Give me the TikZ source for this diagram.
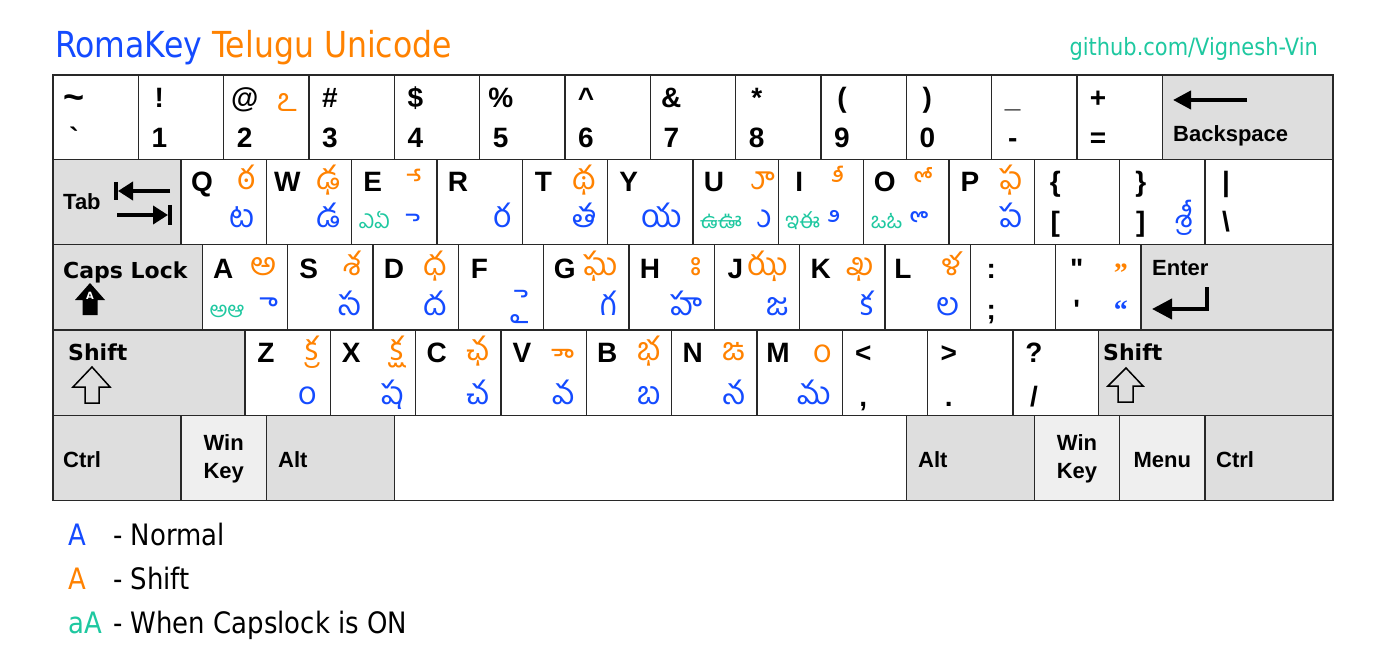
\documentclass[tikz,border=0pt]{standalone}
\usepackage{fontspec}
\usetikzlibrary{arrows.meta}
\setmainfont{Liberation Sans}
\newfontfamily\kf{Liberation Sans}
\newfontfamily\dv{DejaVu Sans}
\newfontfamily\lser{Liberation Serif}
\newfontfamily\tah{DejaVu Sans}[FakeStretch=0.88]
\newfontfamily\tel{Hind Guntur}[Script=Telugu]
\definecolor{kline}{RGB}{40,40,40}
\definecolor{kgray}{RGB}{222,222,222}
\definecolor{klight}{RGB}{239,239,239}
\definecolor{tblue}{RGB}{20,75,255}
\definecolor{torange}{RGB}{255,130,0}
\definecolor{tteal}{RGB}{30,200,160}
\newcommand\mk[1]{\XeTeXglyph\XeTeXcharglyph"#1\relax}
\newcommand\gq[1]{\XeTeXglyph\XeTeXcharglyph"#1\relax}
\tikzset{
 keyst/.style={draw=kline,line width=1.3pt,inner sep=0pt,outer sep=0pt,anchor=north west},
 lab/.style={inner sep=0pt,anchor=base,font=\kf\bfseries\fontsize{28}{30}\selectfont},
 mod/.style={inner sep=0pt,anchor=base west,font=\kf\bfseries\fontsize{22}{24}\selectfont},
 modc/.style={mod,anchor=base},
 vmod/.style={inner sep=0pt,anchor=base west,font=\dv\bfseries\fontsize{22}{24}\selectfont},
 sh/.style={inner sep=0pt,anchor=base east,text=torange,font=\tel\fontsize{32}{34}\selectfont},
 nm/.style={sh,text=tblue},
 qt/.style={inner sep=0pt,anchor=base east,font=\lser\bfseries\fontsize{28}{30}\selectfont},
 cp/.style={inner sep=0pt,anchor=base west,text=tteal,font=\tel\fontsize{22}{24}\selectfont},
 thick arrow/.style={line width=4pt,-{Triangle[length=18pt,width=18pt]}},
 icon/.style={line width=1.5pt,draw=black,line join=miter},
 leg/.style={inner sep=0pt,anchor=base west,font=\tah\fontsize{29.5}{31}\selectfont},
}
\newcommand\kbox[6][white]{\node[keyst,fill=#1,minimum width={(#5)-(#3)},minimum height={(#6)-(#4)}] (#2) at (#3,#4) {};}
\newcommand\nkey[5]{\kbox{#1}{#2}{75}{#3}{159.3}
 \node[lab] (#1-u) at (#2+21,108) {#4};
 \node[lab] (#1-d) at (#2+21,148) {#5};}
\newcommand\lkey[7]{\kbox{#1}{#2}{\rt}{#3}{\rb}
 \node[lab] (#1-l) at (#2+21,\ba) {#4};
 \ifx\relax#5\relax\else\node[sh] (#1-s) at (#3-11,\bo) {#5};\fi
 \ifx\relax#6\relax\else\node[nm] (#1-n) at (#3-11,\bb) {#6};\fi
 \ifx\relax#7\relax\else\node[cp] (#1-c) at (#2+7,\bt) {#7};\fi}
\newcommand\pkey[5]{\kbox{#1}{#2}{\rt}{#3}{\rb}
 \node[lab] (#1-u) at (#2+21,\ba) {#4};
 \node[lab] (#1-d) at (#2+21,\bp) {#5};}
\begin{document}
\begin{tikzpicture}[x=1pt,y=-1pt]
\useasboundingbox (0,0) rectangle (1387,671);
\fill[white] (0,0) rectangle (1387,671);
% title
\node[inner sep=0pt,anchor=base west,font=\tah\fontsize{35.8}{38}\selectfont] (title) at (55,58) {\textcolor{tblue}{RomaKey} \textcolor{torange}{Telugu Unicode}};
\node[inner sep=0pt,anchor=base east,text=tteal,font=\tah\fontsize{23.8}{25}\selectfont] (git) at (1318,56) {github.com/Vignesh-Vin};
% row 1
\kbox{k0}{53}{75}{138.3}{159.3}
\node[lab,font=\kf\bfseries\fontsize{36}{36}\selectfont] (k0-u) at (74,110) {\gq{7E}};
\node[lab] (k0-d) at (74,148) {\gq{60}};
\nkey{k1}{138.3}{223.7}{!}{1}
\nkey{k2}{223.7}{309}{@}{2}
\node[sh] (k2-s) at (298,112) {ఽ};
\nkey{k3}{309}{394.3}{\#}{3}
\nkey{k4}{394.3}{479.7}{\$}{4}
\nkey{k5}{479.7}{565}{\%}{5}
\nkey{k6}{565}{650.3}{\gq{5E}}{6}
\nkey{k7}{650.3}{735.7}{\&}{7}
\nkey{k8}{735.7}{821}{*}{8}
\nkey{k9}{821}{906.3}{(}{9}
\nkey{k10}{906.3}{991.7}{)}{0}
\nkey{k11}{991.7}{1077}{\gq{5F}}{-}
\nkey{k12}{1077}{1162.3}{+}{=}
\kbox[kgray]{bsp}{1162.3}{75}{1333}{159.3}
\node[mod] (bsp-t) at (1173,142) {Backspace};
\coordinate (bsp-a) at (1247,100);
\coordinate (bsp-b) at (1173,100);
\draw[thick arrow] (bsp-a) -- (bsp-b);
% row 2
\def\rt{159.3}\def\rb{244.7}\def\ba{192}\def\bo{190}\def\bb{228}\def\bt{229}\def\bp{232}
\kbox[kgray]{tab}{53}{\rt}{181}{\rb}
\node[mod] (tab-t) at (63,210) {Tab};
\coordinate (tab-a1) at (170,191);
\coordinate (tab-a2) at (118,191);
\draw[line width=4pt,-{Triangle[length=15pt,width=18pt]}] (tab-a1) -- (tab-a2);
\draw[line width=4pt] (116,182) -- (116,200);
\coordinate (tab-b1) at (117,215);
\coordinate (tab-b2) at (168,215);
\draw[line width=4pt,-{Triangle[length=15pt,width=18pt]}] (tab-b1) -- (tab-b2);
\draw[line width=4pt] (170,205) -- (170,225);
\lkey{q}{181}{266.3}{Q}{ఠ}{ట}{}
\lkey{w}{266.3}{351.7}{W}{ఢ}{డ}{}
\lkey{e}{351.7}{437}{E}{}{}{ఎఏ}
\node[sh] (e-s) at (423,198) {\mk{0C47}};
\node[nm] (e-n) at (422,238) {\mk{0C46}};
\lkey{r}{437}{522.3}{R}{}{ర}{}
\lkey{t}{522.3}{607.7}{T}{థ}{త}{}
\lkey{y}{607.7}{693}{Y}{}{య}{}
\lkey{u}{693}{778.3}{U}{}{}{ఉఊ}
\node[sh] (u-s) at (773,190) {\mk{0C42}};
\node[nm] (u-n) at (770,228) {\mk{0C41}};
\lkey{i}{778.3}{863.7}{I}{}{}{ఇఈ}
\node[sh] (i-s) at (847,198) {\mk{0C40}};
\node[nm] (i-n) at (841,238) {\mk{0C3F}};
\lkey{o}{863.7}{949}{O}{}{}{ఒఓ}
\node[sh] (o-s) at (937,199) {\mk{0C4B}};
\node[nm] (o-n) at (933,239) {\mk{0C4A}};
\lkey{p}{949}{1034.3}{P}{ఫ}{ప}{}
\pkey{lbr}{1034.3}{1119.7}{\{}{[}
\pkey{rbr}{1119.7}{1205}{\}}{]}
\node[nm] (rbr-n) at (1194,\bb) {శ్రీ};
\pkey{bsl}{1205}{1333}{\gq{7C}}{\gq{5C}}
% row 3
\def\rt{244.7}\def\rb{330}\def\ba{278}\def\bo{276}\def\bb{315}\def\bt{317}\def\bp{319}
\kbox[kgray]{caps}{53}{\rt}{202.3}{\rb}
\node[vmod] (caps-t) at (63,278) {Caps Lock};
\fill (90,283) -- (105,300) -- (97.5,300) -- (97.5,315) -- (82.5,315) -- (82.5,300) -- (75,300) -- cycle;
\node[inner sep=0pt,text=white,font=\dv\bfseries\fontsize{10}{10}\selectfont] (caps-i) at (90,296) {A};
\lkey{a}{202.3}{287.7}{A}{అ}{}{అఆ}
\node[nm] (a-n) at (277,315) {\mk{0C3E}};
\lkey{s}{287.7}{373}{S}{శ}{స}{}
\lkey{d}{373}{458.3}{D}{ధ}{ద}{}
\lkey{f}{458.3}{543.7}{F}{}{}{}
\node[nm] (f-n) at (530,313) {\mk{0C48}};
\lkey{g}{543.7}{629}{G}{ఘ}{గ}{}
\lkey{h}{629}{714.3}{H}{}{హ}{}
\node[sh] (h-s) at (702,276) {\mk{0C03}};
\lkey{j}{714.3}{799.7}{J}{ఝ}{జ}{}
\lkey{k}{799.7}{885}{K}{ఖ}{క}{}
\kbox{l}{885}{\rt}{970.3}{\rb}
\node[lab] (l-l) at (903,\ba) {L};
\node[sh,font=\tel\fontsize{31}{33}\selectfont] (l-s) at (962,276) {ళ};
\node[nm] (l-n) at (959.3,\bb) {ల};
\pkey{scl}{970.3}{1055.7}{:}{;}
\pkey{quo}{1055.7}{1141}{\gq{22}}{\gq{27}}
\node[qt,text=torange] (quo-s) at (1128,283) {”};
\node[qt,text=tblue] (quo-n) at (1128,319) {“};
\kbox[kgray]{ent}{1141}{\rt}{1333}{\rb}
\node[mod] (ent-t) at (1152,275) {Enter};
\coordinate (ent-a) at (1207,287);
\coordinate (ent-b) at (1207,309);
\coordinate (ent-c) at (1152,309);
\draw[line width=4pt,line join=miter,-{Triangle[length=20pt,width=20pt]}] (ent-a) -- (ent-b) -- (ent-c);
% row 4
\def\rt{330}\def\rb{415.3}\def\ba{362}\def\bo{360}\def\bb{404}\def\bt{404}\def\bp{406}
\kbox[kgray]{lsh}{53}{\rt}{245}{\rb}
\node[vmod] (lsh-t) at (68,360) {Shift};
\draw[icon] (92,367) -- (110,387) -- (99,387) -- (99,403) -- (85,403) -- (85,387) -- (73,387) -- cycle;
\lkey{z}{245}{330.3}{Z}{క్ర}{}{}
\node[nm] (z-n) at (317,404) {\mk{0C02}};
\lkey{x}{330.3}{415.7}{X}{క్ష}{ష}{}
\lkey{c}{415.7}{501}{C}{ఛ}{చ}{}
\lkey{v}{501}{586.3}{V}{}{వ}{}
\node[sh] (v-s) at (575,372) {\mk{0C4C}};
\lkey{b}{586.3}{671.7}{B}{భ}{బ}{}
\lkey{n}{671.7}{757}{N}{ఙ}{న}{}
\lkey{m}{757}{842.3}{M}{}{మ}{}
\node[sh] (m-s) at (832,362) {\mk{0C02}};
\pkey{lt}{842.3}{927.7}{\gq{3C}}{,}
\pkey{gt}{927.7}{1013}{\gq{3E}}{.}
\pkey{qm}{1013}{1098.3}{?}{/}
\kbox[kgray]{rsh}{1098.3}{\rt}{1333}{\rb}
\node[vmod] (rsh-t) at (1103,360) {Shift};
\draw[icon] (1126,368) -- (1143,386) -- (1133,386) -- (1133,402) -- (1118,402) -- (1118,386) -- (1108,386) -- cycle;
% row 5
\def\rt{415.3}\def\rb{500.7}
\kbox[kgray]{lctl}{53}{\rt}{181}{\rb}
\node[mod] (lctl-t) at (63,467) {Ctrl};
\kbox[klight]{lwin}{181}{\rt}{266.3}{\rb}
\node[modc] (lwin-t1) at (223.7,450) {Win};
\node[modc] (lwin-t2) at (223.7,478) {Key};
\kbox[kgray]{lalt}{266.3}{\rt}{394.3}{\rb}
\node[mod] (lalt-t) at (278,467) {Alt};
\kbox{space}{394.3}{\rt}{906.3}{\rb}
\kbox[kgray]{ralt}{906.3}{\rt}{1034.3}{\rb}
\node[mod] (ralt-t) at (918,467) {Alt};
\kbox[klight]{rwin}{1034.3}{\rt}{1119.7}{\rb}
\node[modc] (rwin-t1) at (1077,450) {Win};
\node[modc] (rwin-t2) at (1077,478) {Key};
\kbox[klight]{menu}{1119.7}{\rt}{1205}{\rb}
\node[modc] (menu-t) at (1162.3,467) {Menu};
\kbox[kgray]{rctl}{1205}{\rt}{1333}{\rb}
\node[mod] (rctl-t) at (1216,467) {Ctrl};
% legend
\node[leg,text=tblue] (l1a) at (68,545) {A};
\node[leg] (l1b) at (113,545) {- Normal};
\node[leg,text=torange] (l2a) at (68,589) {A};
\node[leg] (l2b) at (113,589) {- Shift};
\node[leg,text=tteal] (l3a) at (68,633) {aA};
\node[leg] (l3b) at (113,633) {- When Capslock is ON};
\end{tikzpicture}
\end{document}
